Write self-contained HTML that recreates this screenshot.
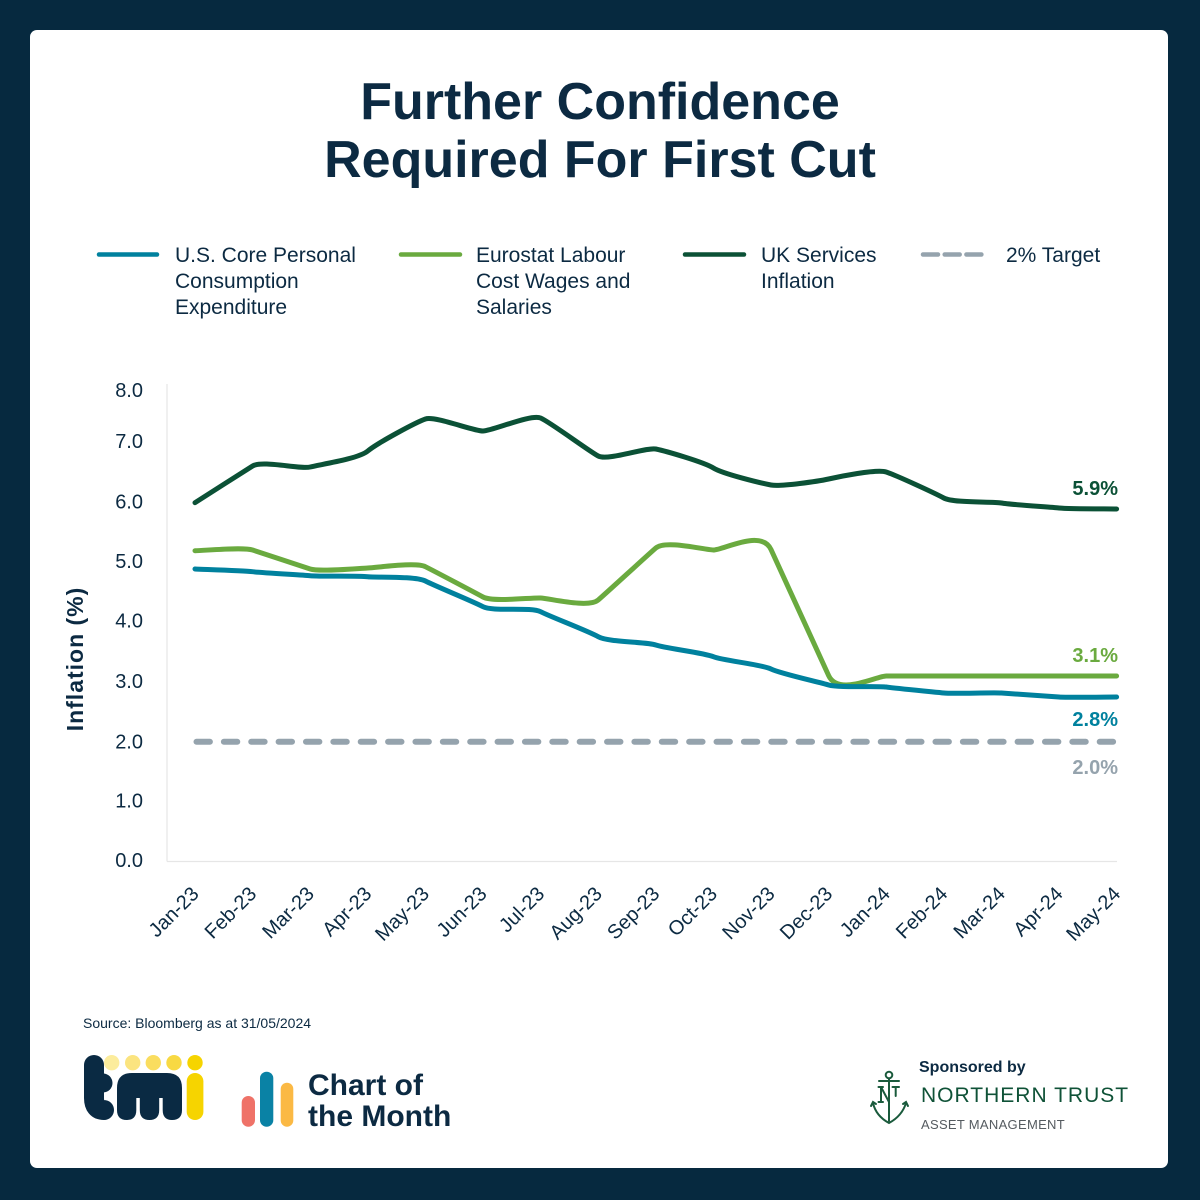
<!DOCTYPE html>
<html>
<head>
<meta charset="utf-8">
<style>
html,body{margin:0;padding:0;background:#06293f;}
body{width:1200px;height:1200px;overflow:hidden;}
svg{display:block;}
text{font-family:"Liberation Sans",Arial,sans-serif;}
</style>
</head>
<body>
<svg width="1200" height="1200" viewBox="0 0 1200 1200" xmlns="http://www.w3.org/2000/svg">
  <rect x="0" y="0" width="1200" height="1200" fill="#06293f"/>
  <rect x="30" y="30" width="1138" height="1138" rx="7" fill="#ffffff"/>

  <!-- Title -->
  <text x="600" y="119" text-anchor="middle" font-size="52" font-weight="bold" fill="#0c2a42">Further Confidence</text>
  <text x="600" y="177" text-anchor="middle" font-size="52" font-weight="bold" fill="#0c2a42">Required For First Cut</text>

  <!-- Legend -->
  <g font-size="21" fill="#0c2a42">
    <line x1="99" y1="254.5" x2="157" y2="254.5" stroke="#00819e" stroke-width="4.5" stroke-linecap="round"/>
    <text x="175" y="262">U.S. Core Personal</text>
    <text x="175" y="288">Consumption</text>
    <text x="175" y="314">Expenditure</text>

    <line x1="401" y1="254.5" x2="460" y2="254.5" stroke="#6aaa3f" stroke-width="4.5" stroke-linecap="round"/>
    <text x="476" y="262">Eurostat Labour</text>
    <text x="476" y="288">Cost Wages and</text>
    <text x="476" y="314">Salaries</text>

    <line x1="685" y1="254.5" x2="744" y2="254.5" stroke="#0b5136" stroke-width="4.5" stroke-linecap="round"/>
    <text x="761" y="262">UK Services</text>
    <text x="761" y="288">Inflation</text>

    <line x1="923" y1="254.5" x2="981.5" y2="254.5" stroke="#95a3ad" stroke-width="4.5" stroke-linecap="round" stroke-dasharray="15 6.7"/>
    <text x="1006" y="262">2% Target</text>
  </g>

  <!-- Axes -->
  <line x1="167" y1="384" x2="167" y2="861.5" stroke="#e6e6e6" stroke-width="1.2"/>
  <line x1="167" y1="861.5" x2="1117" y2="861.5" stroke="#e6e6e6" stroke-width="1.2"/>

  <!-- Y tick labels -->
  <g font-size="20" fill="#0c2a42" text-anchor="end">
    <text x="143" y="397">8.0</text>
    <text x="143" y="448">7.0</text>
    <text x="143" y="508.5">6.0</text>
    <text x="143" y="568">5.0</text>
    <text x="143" y="627.5">4.0</text>
    <text x="143" y="688">3.0</text>
    <text x="143" y="748.5">2.0</text>
    <text x="143" y="807.5">1.0</text>
    <text x="143" y="867">0.0</text>
  </g>

  <!-- Y axis title -->
  <text transform="translate(83,659) rotate(-90)" text-anchor="middle" font-size="23" font-weight="bold" letter-spacing="1" fill="#0c2a42">Inflation (%)</text>

  <!-- X tick labels -->
  <g font-size="20" fill="#0c2a42" text-anchor="end">
    <text transform="translate(200,895) rotate(-45)">Jan-23</text>
    <text transform="translate(257.6,895) rotate(-45)">Feb-23</text>
    <text transform="translate(315.2,895) rotate(-45)">Mar-23</text>
    <text transform="translate(372.8,895) rotate(-45)">Apr-23</text>
    <text transform="translate(430.4,895) rotate(-45)">May-23</text>
    <text transform="translate(488,895) rotate(-45)">Jun-23</text>
    <text transform="translate(545.6,895) rotate(-45)">Jul-23</text>
    <text transform="translate(603.2,895) rotate(-45)">Aug-23</text>
    <text transform="translate(660.8,895) rotate(-45)">Sep-23</text>
    <text transform="translate(718.4,895) rotate(-45)">Oct-23</text>
    <text transform="translate(776,895) rotate(-45)">Nov-23</text>
    <text transform="translate(833.6,895) rotate(-45)">Dec-23</text>
    <text transform="translate(891.2,895) rotate(-45)">Jan-24</text>
    <text transform="translate(948.8,895) rotate(-45)">Feb-24</text>
    <text transform="translate(1006.4,895) rotate(-45)">Mar-24</text>
    <text transform="translate(1064,895) rotate(-45)">Apr-24</text>
    <text transform="translate(1121.6,895) rotate(-45)">May-24</text>
  </g>

  <!-- 2% target dashed -->
  <line x1="196.5" y1="741.7" x2="1113.7" y2="741.7" stroke="#95a3ad" stroke-width="6" stroke-linecap="round" stroke-dasharray="13.4 13.97"/>

  <!-- UK Services -->
  <path fill="none" stroke="#0b5136" stroke-width="5" stroke-linecap="round" stroke-linejoin="round"
    d="M195,502.7 C204.6,496.58 243,471.95 252.6,466 C262.2,460.05 300.6,469.5 310.2,467 C319.8,464.5 358.2,459 367.8,451 C377.4,443 415.8,422.33 425.4,419 C435,415.67 473.4,431.17 483,431 C492.6,430.83 531,413.83 540.6,418 C550.2,422.17 588.6,450.83 598.2,456 C607.8,461.17 646.2,447 655.8,449 C665.4,451 703.8,462 713.4,468 C723,474 761.4,483.17 771,485 C780.6,486.83 819,481.17 828.6,479 C838.2,476.83 876.6,468.83 886.2,472 C895.8,475.17 934.2,492.83 943.8,498 C953.4,503.17 991.8,501.33 1001.4,503 C1011,504.67 1049.4,507 1059,508 C1068.6,509 1107,508.83 1116.6,509"/>

  <!-- Eurostat -->
  <path fill="none" stroke="#6aaa3f" stroke-width="5" stroke-linecap="round" stroke-linejoin="round"
    d="M195,550.7 C204.6,550.58 243,546.95 252.6,550 C262.2,553.05 300.6,566 310.2,569 C319.8,572 358.2,568.38 367.8,568 C377.4,567.62 415.8,561.87 425.4,566.7 C435,571.53 473.4,591.78 483,597 C492.6,602.22 531,597.5 540.6,598 C550.2,598.5 588.6,608.33 598.2,600 C607.8,591.67 646.2,556.33 655.8,548 C665.4,539.67 703.8,549.75 713.4,550 C723,550.25 761.4,528.58 771,549.5 C780.6,570.42 819,654.42 828.6,675.5 C838.2,696.58 876.6,675.92 886.2,676 C895.8,676.08 934.2,676 943.8,676 L1116.6,676"/>

  <!-- US Core PCE -->
  <path fill="none" stroke="#00819e" stroke-width="5" stroke-linecap="round" stroke-linejoin="round"
    d="M195,569 C204.6,569.45 243,570.58 252.6,571.7 C262.2,572.82 300.6,574.87 310.2,575.7 C319.8,576.53 358.2,575.82 367.8,576.7 C377.4,577.58 415.8,576 425.4,581 C435,586 473.4,601.58 483,606.7 C492.6,611.82 531,606.7 540.6,611.7 C550.2,616.7 588.6,631.15 598.2,636.7 C607.8,642.25 646.2,641.67 655.8,645 C665.4,648.33 703.8,652.7 713.4,656.7 C723,660.7 761.4,664.28 771,669 C780.6,673.72 819,682 828.6,685 C838.2,688 876.6,685.67 886.2,687 C895.8,688.33 934.2,692 943.8,693 C953.4,694 991.8,692.33 1001.4,693 C1011,693.67 1049.4,696.33 1059,697 C1068.6,697.67 1107,697 1116.6,697"/>

  <!-- End labels -->
  <g font-size="20" font-weight="bold" text-anchor="end">
    <text x="1118" y="495" fill="#0b5136">5.9%</text>
    <text x="1118" y="662" fill="#6aaa3f">3.1%</text>
    <text x="1118" y="726" fill="#00819e">2.8%</text>
    <text x="1118" y="774" fill="#95a3ad">2.0%</text>
  </g>

  <!-- Source -->
  <text x="83" y="1028" font-size="14" fill="#0c2a42">Source: Bloomberg as at 31/05/2024</text>

  <!-- tmi logo -->
  <g>
    <circle cx="111.7" cy="1062.7" r="7.7" fill="#fcec9c"/>
    <circle cx="132.7" cy="1062.7" r="7.7" fill="#fbe47f"/>
    <circle cx="153.3" cy="1062.7" r="7.7" fill="#fadd5f"/>
    <circle cx="174" cy="1062.7" r="7.7" fill="#f8d943"/>
    <circle cx="195" cy="1062.7" r="7.7" fill="#f6d400"/>
    <!-- t -->
    <path d="M94,1065 V1098 Q94,1110 104,1110" fill="none" stroke="#0a2a43" stroke-width="20" stroke-linecap="round" stroke-linejoin="round"/>
    <line x1="94" y1="1083" x2="103" y2="1083" stroke="#0a2a43" stroke-width="19" stroke-linecap="round"/>
    <!-- m -->
    <path d="M117,1110 V1088 Q117,1073 132,1073 L167,1073 Q182,1073 182,1088 V1110 Q182,1120 172,1120 Q162.7,1120 162.7,1110 V1098 L159.2,1098 V1110 Q159.2,1120 149.5,1120 Q139.8,1120 139.8,1110 V1098 L136.3,1098 V1110 Q136.3,1120 126.7,1120 Q117,1120 117,1110 Z" fill="#0a2a43"/>
    <!-- i -->
    <rect x="186.7" y="1073" width="16.7" height="47" rx="8.3" fill="#f6d400"/>
  </g>

  <!-- Chart of the Month icon -->
  <rect x="241.7" y="1096" width="13.3" height="30.7" rx="6.6" fill="#ef7268"/>
  <rect x="260" y="1071.7" width="13.3" height="55" rx="6.6" fill="#0a82a5"/>
  <rect x="280.7" y="1082.7" width="12.6" height="44" rx="6.3" fill="#fbb944"/>
  <text x="308" y="1095" font-size="30" font-weight="bold" fill="#0c2a42">Chart of</text>
  <text x="308" y="1126" font-size="30" font-weight="bold" fill="#0c2a42">the Month</text>

  <!-- Northern Trust -->
  <text x="919" y="1072" font-size="16" font-weight="bold" fill="#0c2a42">Sponsored by</text>
  <text x="921" y="1102" font-size="21" letter-spacing="1" fill="#0f5237">NORTHERN TRUST</text>
  <text x="921" y="1129" font-size="13" letter-spacing="0.3" fill="#555b60">ASSET MANAGEMENT</text>
  <g fill="none" stroke="#1a5a3c" stroke-width="2" stroke-linecap="round">
    <circle cx="889" cy="1075" r="3.3"/>
    <line x1="879" y1="1081" x2="899" y2="1081"/>
    <line x1="889" y1="1078.5" x2="889" y2="1121"/>
    <line x1="881" y1="1087" x2="881" y2="1102"/>
    <line x1="881" y1="1087" x2="889" y2="1102"/>
    <line x1="878.5" y1="1087" x2="883" y2="1087"/>
    <line x1="878.5" y1="1102" x2="883" y2="1102"/>
    <line x1="892.5" y1="1087" x2="899" y2="1087"/>
    <line x1="895.7" y1="1087" x2="895.7" y2="1096"/>
    <path d="M873,1103 Q876,1116 889,1123 Q902,1116 906,1103"/>
    <path d="M871,1106 L873,1102 L876,1104"/>
    <path d="M908,1106 L906,1102 L903,1104"/>
  </g>
</svg>
</body>
</html>
